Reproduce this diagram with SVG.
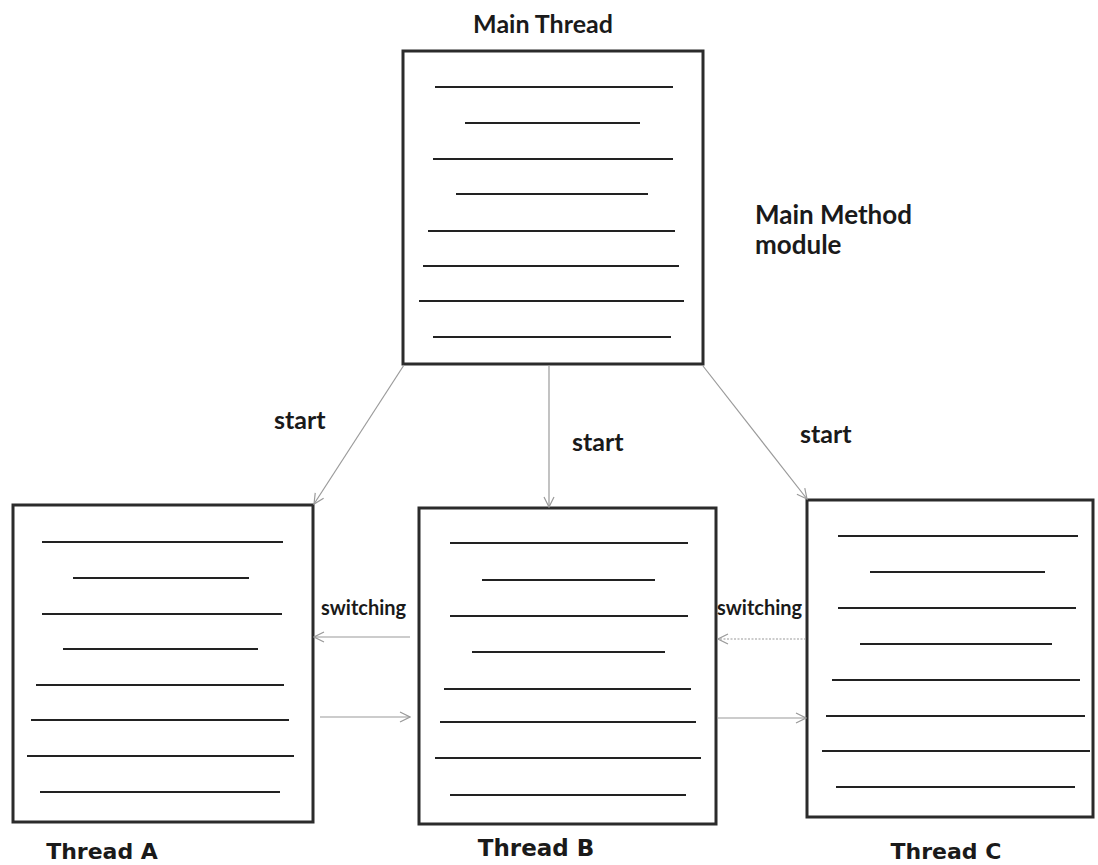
<svg xmlns="http://www.w3.org/2000/svg" width="1098" height="865" viewBox="0 0 1098 865">
  <style>
    .box { fill: #ffffff; stroke: #2b2b2b; stroke-width: 3; }
    .txt { stroke: #222; stroke-width: 2; }
    .conn { stroke: #9a9a9a; stroke-width: 1.2; fill: none; }
    .dot { stroke-dasharray: 2 1.5; }
    .lbl { font-family: Lato, "Open Sans", "DejaVu Sans", sans-serif; font-weight: bold; fill: #1a1a1a; }
    .cap { font-family: "DejaVu Sans", Verdana, sans-serif; font-weight: bold; fill: #1a1a1a; }
  </style>
  <defs>
    <marker id="arrow" viewBox="0 0 12 12" refX="11" refY="6" markerWidth="12" markerHeight="12" markerUnits="userSpaceOnUse" orient="auto">
      <path d="M1,1 L11,6 L1,11" fill="none" stroke="#9a9a9a" stroke-width="1.2"/>
    </marker>
  </defs>

  <rect width="1098" height="865" fill="#ffffff"/>

  <!-- main thread -->
  <g id="main-thread">
    <text class="lbl" x="543" y="33" font-size="25" text-anchor="middle">Main Thread</text>
    <rect class="box" x="403" y="51" width="300" height="313"/>
    <g class="txt">
      <line x1="435" y1="87" x2="673" y2="87"/>
      <line x1="465" y1="123" x2="640" y2="123"/>
      <line x1="433" y1="159" x2="673" y2="159"/>
      <line x1="456" y1="194" x2="648" y2="194"/>
      <line x1="428" y1="231" x2="675" y2="231"/>
      <line x1="423" y1="266" x2="679" y2="266"/>
      <line x1="419" y1="301" x2="684" y2="301"/>
      <line x1="433" y1="337" x2="671" y2="337"/>
    </g>
    <text class="lbl" x="755" y="224" font-size="26">Main Method</text>
    <text class="lbl" x="755" y="254" font-size="26">module</text>
  </g>

  <!-- thread A -->
  <g id="thread-a">
    <rect class="box" x="13" y="505" width="300" height="317"/>
    <g class="txt">
      <line x1="42" y1="542" x2="283" y2="542"/>
      <line x1="73" y1="578" x2="249" y2="578"/>
      <line x1="42" y1="614" x2="282" y2="614"/>
      <line x1="63" y1="649" x2="258" y2="649"/>
      <line x1="36" y1="685" x2="284" y2="685"/>
      <line x1="31" y1="720" x2="289" y2="720"/>
      <line x1="27" y1="756" x2="294" y2="756"/>
      <line x1="40" y1="792" x2="280" y2="792"/>
    </g>
    <text class="cap" x="102" y="859" font-size="22" text-anchor="middle">Thread A</text>
  </g>

  <!-- thread B -->
  <g id="thread-b">
    <rect class="box" x="419" y="508" width="297" height="316"/>
    <g class="txt">
      <line x1="450" y1="543" x2="688" y2="543"/>
      <line x1="482" y1="580" x2="655" y2="580"/>
      <line x1="450" y1="616" x2="688" y2="616"/>
      <line x1="472" y1="652" x2="665" y2="652"/>
      <line x1="444" y1="689" x2="691" y2="689"/>
      <line x1="440" y1="722" x2="696" y2="722"/>
      <line x1="435" y1="758" x2="701" y2="758"/>
      <line x1="450" y1="795" x2="686" y2="795"/>
    </g>
    <text class="cap" x="536" y="856" font-size="23" text-anchor="middle">Thread B</text>
  </g>

  <!-- thread C -->
  <g id="thread-c">
    <rect class="box" x="807" y="500" width="286" height="317"/>
    <g class="txt">
      <line x1="838" y1="536" x2="1078" y2="536"/>
      <line x1="870" y1="572" x2="1045" y2="572"/>
      <line x1="838" y1="608" x2="1076" y2="608"/>
      <line x1="860" y1="644" x2="1052" y2="644"/>
      <line x1="832" y1="680" x2="1080" y2="680"/>
      <line x1="826" y1="716" x2="1085" y2="716"/>
      <line x1="822" y1="751" x2="1090" y2="751"/>
      <line x1="836" y1="787" x2="1075" y2="787"/>
    </g>
    <text class="cap" x="946" y="859" font-size="22" text-anchor="middle">Thread C</text>
  </g>

  <!-- connectors -->
  <g id="connectors">
    <line class="conn" x1="404" y1="365" x2="314" y2="504" marker-end="url(#arrow)"/>
    <line class="conn" x1="549" y1="365" x2="549" y2="507" marker-end="url(#arrow)"/>
    <line class="conn" x1="703" y1="366" x2="807" y2="499" marker-end="url(#arrow)"/>
    <line class="conn" x1="410" y1="637" x2="314" y2="637" marker-end="url(#arrow)"/>
    <line class="conn" x1="320" y1="717" x2="410" y2="717" marker-end="url(#arrow)"/>
    <line class="conn dot" x1="806" y1="639" x2="718" y2="639" marker-end="url(#arrow)"/>
    <line class="conn" x1="718" y1="718" x2="806" y2="718" marker-end="url(#arrow)"/>
    <text class="lbl" x="274" y="429" font-size="25">start</text>
    <text class="lbl" x="572" y="451" font-size="25">start</text>
    <text class="lbl" x="800" y="443" font-size="25">start</text>
    <text class="lbl" x="321" y="615" font-size="20">switching</text>
    <text class="lbl" x="717" y="615" font-size="20">switching</text>
  </g>
</svg>
